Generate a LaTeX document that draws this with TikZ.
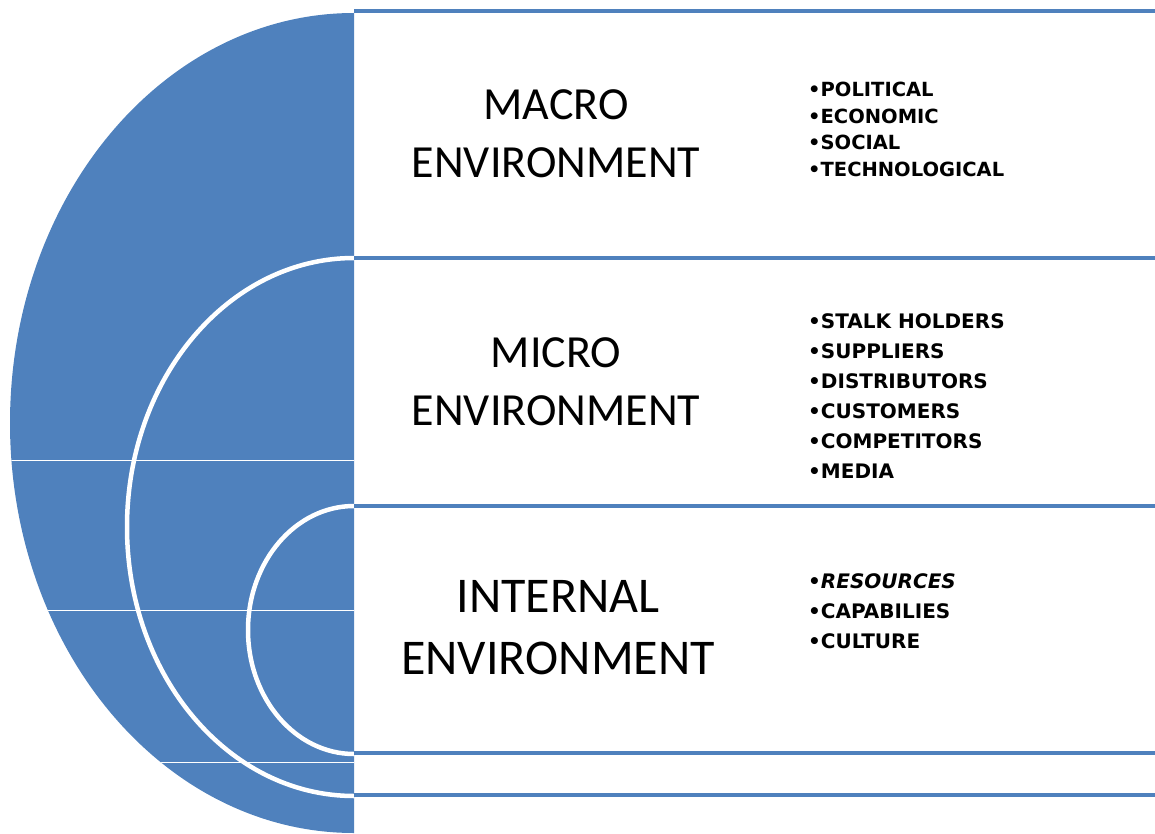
\documentclass[tikz,border=0pt]{standalone}
\usepackage{fontspec}
\setmainfont{Carlito}
\newfontfamily\listfont{DejaVu Sans}
\definecolor{envblue}{RGB}{79,129,189}
\begin{document}
\begin{tikzpicture}
		[x=1pt,y=-1pt,
		envtitle/.style={align=center,inner sep=0pt,font=\fontsize{46}{58}\selectfont},
		envlist/.style={align=left,anchor=north west,inner sep=0pt,font=\listfont\bfseries\fontsize{19.5}{26.5}\selectfont},
		band/.style={envblue,line width=4pt},
		ring/.style={white,line width=4.5pt}]
		\useasboundingbox (0,0) rectangle (1155,834);
		% half disc with the two white rings
		\fill[envblue] (354,13) arc[start angle=270,end angle=90,x radius=344,y radius=410] -- cycle;
		\begin{scope}
			\clip (0,0) rectangle (354,834);
			\draw[ring] (354,527) ellipse[x radius=227,y radius=269];
			\draw[ring] (354,630) ellipse[x radius=106,y radius=124];
			\clip (354,13) arc[start angle=270,end angle=90,x radius=344,y radius=410] -- cycle;
			\foreach \y in {460,610,762}
			{
				\draw[white,line width=1pt] (0,\y) -- (354,\y);
			}
		\end{scope}
		% bands on the right
		\foreach \y in {11,258,506,753,795}
		{
			\draw[band] (354,\y) -- (1155,\y);
		}
		\node[envtitle,name=macro] at (556,134) {MACRO\\ENVIRONMENT};
		\node[envtitle,name=micro] at (556,382) {MICRO\\ENVIRONMENT};
		\node[envtitle,name=internal,font=\fontsize{50}{62}\selectfont] at (558,628) {INTERNAL\\ENVIRONMENT};
		\node[envlist,name=macrolist] at (808,82) {•POLITICAL\\•ECONOMIC\\•SOCIAL\\•TECHNOLOGICAL};
		\node[envlist,name=microlist,font=\listfont\bfseries\fontsize{20}{30}\selectfont] at (808,313)
		{•STALK HOLDERS\\•SUPPLIERS\\•DISTRIBUTORS\\•CUSTOMERS\\•COMPETITORS\\•MEDIA};
		\node[envlist,name=internallist,font=\listfont\bfseries\fontsize{20}{30}\selectfont] at (808,573)
		{•\textit{RESOURCES}\\•CAPABILIES\\•CULTURE};
	\end{tikzpicture}
\end{document}
